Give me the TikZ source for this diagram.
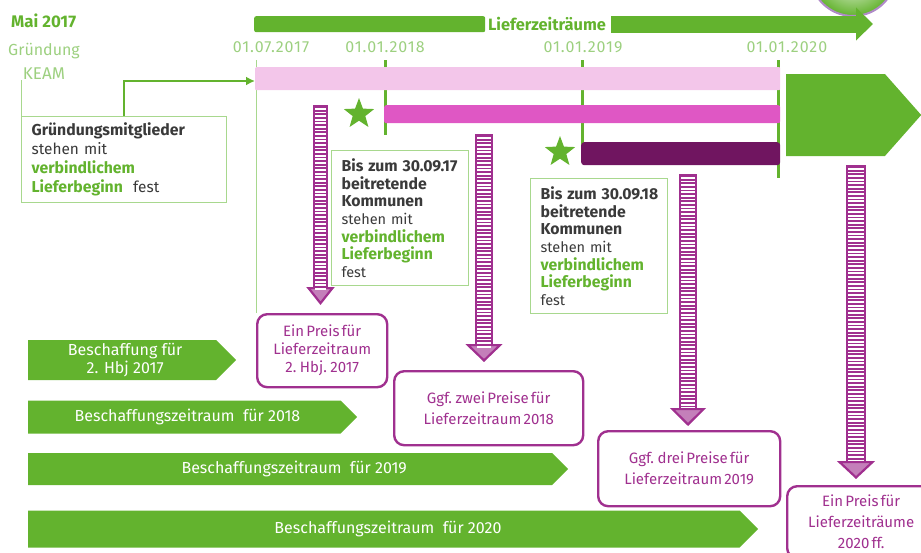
\documentclass[tikz,border=0pt]{standalone}
\usepackage{fontspec}
\setmainfont{Fira Sans}
\newfontfamily\preisfont[WordSpace=0.55]{Fira Sans}
\usepackage{xcolor}
\usepackage{tikz}
\usetikzlibrary{shapes.geometric, shapes.symbols, arrows.meta, positioning, calc}
\definecolor{kgreen}{HTML}{63B32E}
\definecolor{lightgreen}{HTML}{A8D88E}
\definecolor{labelgreen}{HTML}{9DD080}
\definecolor{rosebar}{HTML}{F3C6EA}
\definecolor{pinkbar}{HTML}{DF57C4}
\definecolor{darkbar}{HTML}{701560}
\definecolor{lila}{HTML}{A0308F}
\definecolor{textdark}{HTML}{3A3A3A}
\definecolor{ballrim}{HTML}{B08AC8}
\tikzset{
  datum/.style={text=labelgreen, font=\addfontfeatures{LetterSpace=6}\fontsize{16}{18}\selectfont, inner sep=0pt},
  tick/.style={draw=kgreen, line width=3pt},
  thinline/.style={draw=lightgreen, line width=1pt},
  bar/.style={rectangle, rounded corners=2pt, inner sep=0pt, anchor=north west},
  infobox/.style={rectangle, draw=lightgreen, line width=1.2pt, fill=white, anchor=north west,
    align=left, inner xsep=10pt, inner ysep=0pt, text=textdark,
    font=\fontsize{14.5}{17.6}\selectfont},
  preis/.style={rectangle, rounded corners=10pt, draw=lila, line width=2.4pt, fill=white, text=lila,
    align=center, inner sep=0pt, anchor=north west, font=\preisfont\fontsize{15}{21}\selectfont},
  zeitraum/.style={signal, signal to=east, fill=kgreen, text=white, inner sep=0pt, anchor=west,
    align=center, font=\fontsize{16}{18}\selectfont},
  preispfeil/.style n args={2}{draw=lila, line width=#1,
    -{Triangle[length=18pt, width=#2, fill=lila!62, line width=2.2pt]},
    postaction={draw=white, line width=#1-4pt, dash pattern=on 1.8pt off 1.8pt, -, shorten <=3pt, shorten >=22pt}},
  stern/.style={star, star points=5, star point ratio=2.4, fill=kgreen, minimum size=32pt, inner sep=0pt},
}
\newcommand{\GR}[1]{{\fontsize{15.8}{17.6}\selectfont\textcolor{kgreen}{\textbf{#1}}}}
\newcommand{\BF}[1]{{\fontsize{15.8}{17.6}\selectfont\mbox{\textbf{#1}}}}
\newcommand{\ZT}[2][6pt]{\hspace*{#1}\raisebox{-2pt}{#2}}

\begin{document}
\begin{tikzpicture}[x=1pt, y=-1pt]
\clip (0,0) rectangle (921,552);

% logo behind the top arrow
\node[circle, draw=ballrim, line width=2pt, minimum size=86pt, inner sep=0pt, shading=radial,
      inner color=white, outer color=kgreen] (LOGO) at (853,-27) {};

\node[text=kgreen, font=\bfseries\fontsize{16.8}{18}\selectfont, inner sep=0pt, anchor=west] (MAI) at (11,21) {Mai 2017};
\node[text=labelgreen, font=\fontsize{16}{18}\selectfont, inner sep=0pt] (GR) at (44,51) {Gründung};
\node[text=labelgreen, font=\fontsize{17}{18}\selectfont, inner sep=0pt] (KEAM) at (44,74) {KEAM};

\node[bar, fill=kgreen, minimum width=231pt, minimum height=16pt] (LZ) at (254,16) {};
\node[text=kgreen, font=\bfseries\fontsize{16.4}{18}\selectfont, inner sep=0pt] (LZT) at (547,24) {Lieferzeiträume};
\coordinate (LZE) at (873,24);
\draw[kgreen, line width=17pt, -{Triangle[length=17pt, width=32pt]}] (LZT.east) ++(5,0) -- (LZE);

\node[datum] (D17) at (271,47) {01.07.2017};
\node[datum] (D18) at (385,47) {01.01.2018};
\node[datum] (D19) at (583,47) {01.01.2019};
\node[datum] (D20) at (787,47) {01.01.2020};

\node[infobox, font=\fontsize{15.4}{19}\selectfont, text width=185pt, minimum height=86pt] (B0) at (21,116) {\BF{Gründungsmitglieder}\\stehen mit\\\GR{verbindlichem}\\\GR{Lieferbeginn}~~fest};
\node[infobox, text width=117pt, minimum height=135pt] (B1) at (331,150) {\BF{Bis zum 30.09.17}\\\BF{beitretende}\\\BF{Kommunen}\\stehen mit\\\GR{verbindlichem}\\\GR{Lieferbeginn}\\fest};
\node[infobox, text width=117pt, minimum height=135pt] (B2) at (530,178) {\BF{Bis zum 30.09.18}\\\BF{beitretende}\\\BF{Kommunen}\\stehen mit\\\GR{verbindlichem}\\\GR{Lieferbeginn}\\fest};

\node[preis, font=\preisfont\fontsize{15}{18}\selectfont, minimum width=130pt, minimum height=73pt] (P1) at (256,313) {Ein Preis für\\Lieferzeitraum\\2. Hbj. 2017};
\node[preis, minimum width=189pt, minimum height=74pt] (P2) at (393,370) {Ggf. zwei Preise für\\Lieferzeitraum 2018};
\node[preis, minimum width=182pt, minimum height=75pt] (P3) at (597,430) {Ggf. drei Preise für\\Lieferzeitraum 2019};
\node[preis, minimum width=148pt, minimum height=72pt] (P4) at (786,485) {Ein Preis für\\Lieferzeiträume\\2020 ff.};

% date lines
\coordinate (T17) at (256,60);
\coordinate (T18) at (385,60);
\coordinate (T18b) at (385,135);
\coordinate (T19) at (582.5,60);
\coordinate (T19b) at (582.5,160);
\coordinate (T20) at (778.5,60);
\coordinate (T20b) at (778.5,178);
\draw[thinline] (T17) -- (P1.north west -| T17);
\draw[tick] (T18) -- (T18b);
\draw[tick] (T19) -- (T19b);
\draw[tick] (T20) -- (T20b);

\node[bar, fill=rosebar, rounded corners=1pt, minimum width=525pt, minimum height=23pt] (R1) at (255,67) {};
\node[bar, fill=pinkbar, minimum width=396pt, minimum height=18pt] (R2) at (384,105) {};
\node[bar, fill=darkbar, rounded corners=3pt, minimum width=199pt, minimum height=23pt] (R3) at (581,142) {};

\node[signal, signal to=east, signal pointer angle=97, fill=kgreen, inner sep=0pt, anchor=west,
      minimum width=135pt, minimum height=82pt] (GROSS) at (786,115) {};

\node[stern] (S1) at (359,114) {};
\node[stern] (S2) at (560,152) {};

\coordinate (K0) at (21,80);
\draw[thinline] (K0) -- (K0 |- B0.north);
\coordinate (E0) at ($(B0.north west)!0.5!(B0.north east)$);
\draw[kgreen, line width=2.5pt, -{Latex[length=9pt, width=9pt]}] (E0) |- (R1.west |- 0,81);

\coordinate (A1) at (320.5,105);
\coordinate (A2) at (484,134);
\coordinate (A3) at (688,174);
\coordinate (A4) at (856,165);
\draw[preispfeil={15pt}{28pt}, shorten >=8pt] (A1) -- (A1 |- P1.north);
\draw[preispfeil={18pt}{37pt}, shorten >=8pt] (A2) -- (A2 |- P2.north);
\draw[preispfeil={18pt}{36pt}, shorten >=4pt] (A3) -- (A3 |- P3.north);
\draw[preispfeil={20pt}{38pt}, shorten >=6pt] (A4) -- (A4 |- P4.north);

\node[zeitraum, minimum width=208pt, minimum height=40pt] (Z1) at (28,360) {\ZT{Beschaffung für}\\\ZT{2. Hbj 2017}};
\node[zeitraum, minimum width=329pt, minimum height=33pt] (Z2) at (28,417) {\ZT{Beschaffungszeitraum~~für 2018}};
\node[zeitraum, minimum width=540pt, minimum height=32pt] (Z3) at (28,469) {\ZT[8pt]{Beschaffungszeitraum~~für 2019}};
\node[zeitraum, minimum width=730pt, minimum height=37pt] (Z4) at (28,529) {\ZT[8pt]{Beschaffungszeitraum~~für 2020}};

\end{tikzpicture}
\end{document}
